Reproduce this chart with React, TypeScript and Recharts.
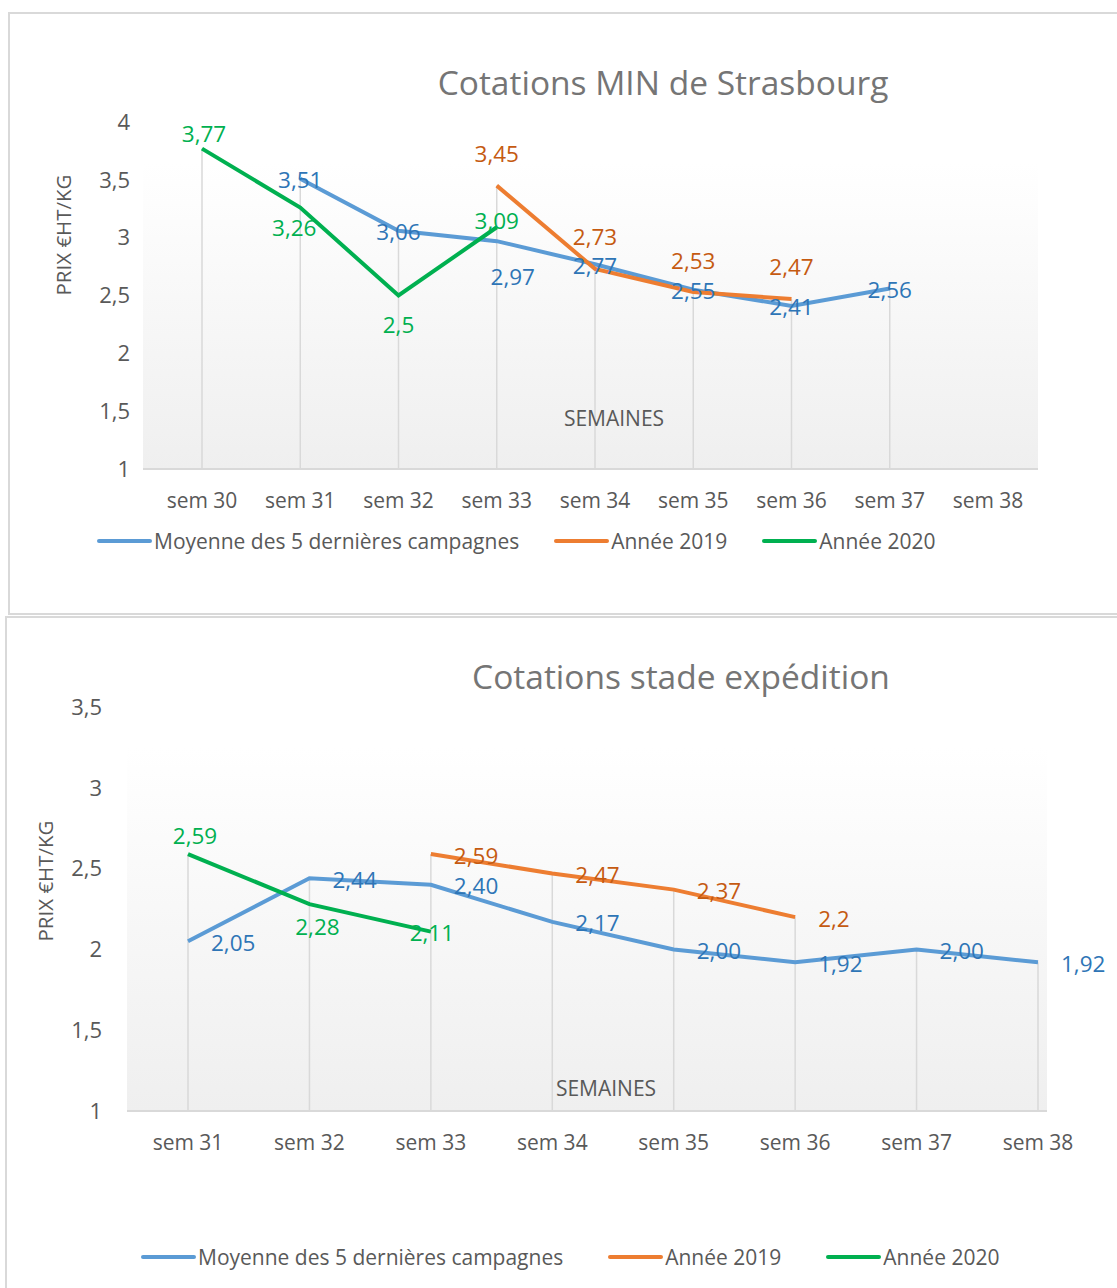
import React from 'react';
import { LineChart, Line, XAxis, YAxis, CartesianGrid, LabelList, Legend, ReferenceLine } from 'recharts';

// Cotations MIN de Strasbourg
const weeksMin = ['sem 30', 'sem 31', 'sem 32', 'sem 33', 'sem 34', 'sem 35', 'sem 36', 'sem 37', 'sem 38'];
const moyenneMin = [null, 3.51, 3.06, 2.97, 2.77, 2.55, 2.41, 2.56, null];
const annee2019Min = [null, null, null, 3.45, 2.73, 2.53, 2.47, null, null];
const annee2020Min = [3.77, 3.26, 2.5, 3.09, null, null, null, null, null];
const ticksMin = [1, 1.5, 2, 2.5, 3, 3.5, 4];

// Cotations stade expédition
const weeksExp = ['sem 31', 'sem 32', 'sem 33', 'sem 34', 'sem 35', 'sem 36', 'sem 37', 'sem 38'];
const moyenneExp = [2.05, 2.44, 2.4, 2.17, 2.0, 1.92, 2.0, 1.92];
const annee2019Exp = [null, null, 2.59, 2.47, 2.37, 2.2, null, null];
const annee2020Exp = [2.59, 2.28, 2.11, null, null, null, null, null];
const ticksExp = [1, 1.5, 2, 2.5, 3, 3.5];

const BLUE = '#5b9bd5';
const ORANGE = '#ed7d31';
const GREEN = '#00b050';
const BLUE_TXT = '#2e75b6';
const ORANGE_TXT = '#c55a11';
const GREEN_TXT = '#00b050';
const AXIS_TXT = '#595959';
const FONT = '"Open Sans", sans-serif';

const comma = (v: number) => String(v).replace('.', ',');
const comma2 = (v: number) => v.toFixed(2).replace('.', ',');

const buildRows = (weeks: string[], m: any[], a: any[], b: any[]) =>
  weeks.map((w, i) => ({ week: w, moyenne: m[i], a2019: a[i], a2020: b[i] }));

const topOf = (m: any[], a: any[], b: any[], i: number) => {
  const vals = [m[i], a[i], b[i]].filter((v) => v != null);
  return vals.length ? Math.max(...vals) : null;
};

// label placement: [dx, dy, anchor] relative to the point
type Place = [number, number, 'middle' | 'start'];
const makeLabel = (color: string, fmt: (v: number) => string, place: (i: number) => Place) =>
  (props: any) => {
    const { x, y, value, index } = props;
    if (value == null) return null;
    const [dx, dy, anchor] = place(index);
    return (
      <text x={x + dx} y={y + dy} fill={color} fontSize={22.5} fontFamily={FONT}
        textAnchor={anchor} dominantBaseline="central">
        {fmt(value)}
      </text>
    );
  };

const legendItems = [
  { label: 'Moyenne des 5 dernières campagnes', color: BLUE },
  { label: 'Année 2019', color: ORANGE },
  { label: 'Année 2020', color: GREEN },
];

const makeLegend = (gap: number) => () => (
  <div style={{ display: 'flex', alignItems: 'center', fontFamily: FONT, fontSize: 21, color: AXIS_TXT }}>
    {legendItems.map((it, i) => (
      <div key={it.label} style={{ display: 'flex', alignItems: 'center', marginLeft: i ? gap : 0 }}>
        <span style={{ width: 55, height: 4, borderRadius: 2, background: it.color, marginRight: 2 }} />
        <span>{it.label}</span>
      </div>
    ))}
  </div>
);

const minPlaceBlue = (i: number): Place => (i === 3 ? [16, 35, 'middle'] : [0, 1, 'middle']);
const minPlaceOrange = (): Place => [0, -32, 'middle'];
const minGreenOffsets: Place[] = [[2, -15, 'middle'], [-6, 20, 'middle'], [0, 29, 'middle'], [0, -7, 'middle']];
const expPlaceRight = (): Place => [23, 1, 'start'];
const expGreenOffsets: Place[] = [[7, -19, 'middle'], [8, 22, 'middle'], [1, 1, 'middle']];

const ChartMin = () => {
  const data = buildRows(weeksMin, moyenneMin, annee2019Min, annee2020Min);
  return (
    <LineChart width={1117} height={615} data={data} margin={{ top: 122, right: 79, bottom: 116, left: 0 }}>
      <defs>
        <linearGradient id="bgMin" x1="0" y1="0" x2="0" y2="1">
          <stop offset="0%" stopColor="#ffffff" />
          <stop offset="12%" stopColor="#ffffff" />
          <stop offset="100%" stopColor="#efefef" />
        </linearGradient>
      </defs>
      <CartesianGrid horizontal={false} vertical={false} fill="url(#bgMin)" />
      <XAxis dataKey="week" padding={{ left: 59, right: 50 }} height={30} tickLine={false} tickSize={0} tickMargin={24}
        axisLine={{ stroke: '#d9d9d9', strokeWidth: 2 }} tick={{ fill: AXIS_TXT, fontSize: 21, fontFamily: FONT }}
        interval={0} />
      <YAxis width={143} domain={[1, 4]} ticks={ticksMin} tickFormatter={comma} axisLine={false} tickLine={false}
        tickSize={0} tickMargin={13} tick={{ fill: AXIS_TXT, fontSize: 22, fontFamily: FONT }} />
      {weeksMin.map((w, i) => {
        const t = topOf(moyenneMin, annee2019Min, annee2020Min, i);
        return t == null ? null : (
          <ReferenceLine key={w} segment={[{ x: w, y: 1 }, { x: w, y: t }]} stroke="#d9d9d9" strokeWidth={1.5} />
        );
      })}
      <Line dataKey="moyenne" stroke={BLUE} strokeWidth={4} dot={false} isAnimationActive={false}>
        <LabelList dataKey="moyenne" content={makeLabel(BLUE_TXT, comma2, minPlaceBlue)} />
      </Line>
      <Line dataKey="a2019" stroke={ORANGE} strokeWidth={4} dot={false} isAnimationActive={false}>
        <LabelList dataKey="a2019" content={makeLabel(ORANGE_TXT, comma, minPlaceOrange)} />
      </Line>
      <Line dataKey="a2020" stroke={GREEN} strokeWidth={4} dot={false} isAnimationActive={false}>
        <LabelList dataKey="a2020" content={makeLabel(GREEN_TXT, comma, (i) => minGreenOffsets[i])} />
      </Line>
      <Legend verticalAlign="middle" layout="horizontal" content={makeLegend(35)}
        wrapperStyle={{ position: 'absolute', left: 97, top: 527, width: 1000 }} />
    </LineChart>
  );
};

const ChartExp = () => {
  const data = buildRows(weeksExp, moyenneExp, annee2019Exp, annee2020Exp);
  return (
    <LineChart width={1117} height={672} data={data} margin={{ top: 91, right: 70, bottom: 147, left: 0 }}>
      <defs>
        <linearGradient id="bgExp" x1="0" y1="0" x2="0" y2="1">
          <stop offset="0%" stopColor="#ffffff" />
          <stop offset="10%" stopColor="#ffffff" />
          <stop offset="100%" stopColor="#efefef" />
        </linearGradient>
      </defs>
      <CartesianGrid horizontal={false} vertical={false} fill="url(#bgExp)" />
      <XAxis dataKey="week" padding={{ left: 61, right: 9 }} height={30} tickLine={false} tickSize={0} tickMargin={24}
        axisLine={{ stroke: '#d9d9d9', strokeWidth: 2 }} tick={{ fill: AXIS_TXT, fontSize: 21, fontFamily: FONT }}
        interval={0} />
      <YAxis width={127} domain={[1, 3.5]} ticks={ticksExp} tickFormatter={comma} axisLine={false} tickLine={false}
        tickSize={0} tickMargin={25} tick={{ fill: AXIS_TXT, fontSize: 22, fontFamily: FONT }} />
      {weeksExp.map((w, i) => {
        const t = topOf(moyenneExp, annee2019Exp, annee2020Exp, i);
        return t == null ? null : (
          <ReferenceLine key={w} segment={[{ x: w, y: 1 }, { x: w, y: t }]} stroke="#d9d9d9" strokeWidth={1.5} />
        );
      })}
      <Line dataKey="moyenne" stroke={BLUE} strokeWidth={4} dot={false} isAnimationActive={false}>
        <LabelList dataKey="moyenne" content={makeLabel(BLUE_TXT, comma2, expPlaceRight)} />
      </Line>
      <Line dataKey="a2019" stroke={ORANGE} strokeWidth={4} dot={false} isAnimationActive={false}>
        <LabelList dataKey="a2019" content={makeLabel(ORANGE_TXT, comma, expPlaceRight)} />
      </Line>
      <Line dataKey="a2020" stroke={GREEN} strokeWidth={4} dot={false} isAnimationActive={false}>
        <LabelList dataKey="a2020" content={makeLabel(GREEN_TXT, comma, (i) => expGreenOffsets[i])} />
      </Line>
      <Legend verticalAlign="middle" layout="horizontal" content={makeLegend(45)}
        wrapperStyle={{ position: 'absolute', left: 141, top: 627, width: 1000 }} />
    </LineChart>
  );
};

const abs = (left: number, top: number): React.CSSProperties => ({ position: 'absolute', left, top });

const Title = ({ text, cx, cy }: { text: string; cx: number; cy: number }) => (
  <div style={{ ...abs(cx - 400, cy - 24), width: 800, textAlign: 'center', fontFamily: FONT, fontSize: 33.5,
    color: '#757575', lineHeight: '48px' }}>{text}</div>
);

export default function App() {
  return (
    <div style={{ position: 'absolute', left: 0, top: 0, width: 1117, height: 1288, overflow: 'hidden', background: '#fff' }}>
      <div style={{ ...abs(8, 12), width: 1200, height: 603, border: '2px solid #d9d9d9', boxSizing: 'border-box' }} />
      <div style={{ ...abs(5, 616), width: 1200, height: 800, border: '2px solid #d9d9d9', boxSizing: 'border-box' }} />

      <div style={abs(0, 0)}>
        <ChartMin />
      </div>
      <div style={abs(0, 616)}>
        <ChartExp />
      </div>

      <Title text="Cotations MIN de Strasbourg" cx={663} cy={82} />
      <Title text="Cotations stade expédition" cx={681} cy={676} />

      <svg width={1117} height={1288} style={{ ...abs(0, 0), pointerEvents: 'none' }}>
        <text x={63} y={235} transform="rotate(-90 63 235)" textAnchor="middle" dominantBaseline="central"
          fontFamily={FONT} fontSize={20.5} fill={AXIS_TXT}>PRIX €HT/KG</text>
        <text x={45} y={881} transform="rotate(-90 45 881)" textAnchor="middle" dominantBaseline="central"
          fontFamily={FONT} fontSize={20.5} fill={AXIS_TXT}>PRIX €HT/KG</text>
        <text x={614} y={418} textAnchor="middle" dominantBaseline="central" fontFamily={FONT} fontSize={21}
          fill={AXIS_TXT}>SEMAINES</text>
        <text x={606} y={1088} textAnchor="middle" dominantBaseline="central" fontFamily={FONT} fontSize={21}
          fill={AXIS_TXT}>SEMAINES</text>
      </svg>
    </div>
  );
}
